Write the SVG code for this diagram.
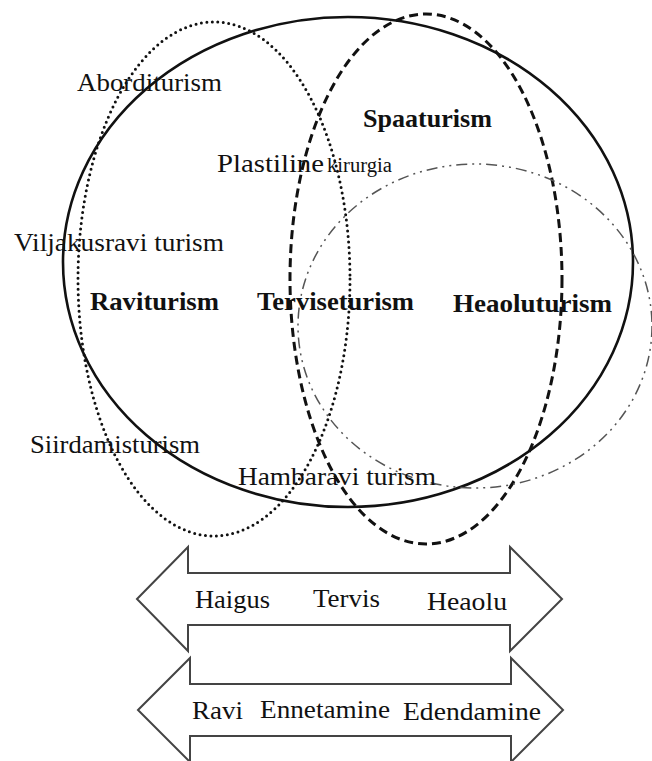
<svg xmlns="http://www.w3.org/2000/svg" width="652" height="761" viewBox="0 0 652 761">
<style>
.t{font-family:"Liberation Serif","Times New Roman",serif;font-size:26px;fill:#111}
.b{font-family:"Liberation Serif","Times New Roman",serif;font-size:26px;font-weight:bold;fill:#111}
.solid{fill:none;stroke:#111;stroke-width:2.6}
.dot{fill:none;stroke:#111;stroke-width:3;stroke-dasharray:0 5.5;stroke-linecap:round}
.dash{fill:none;stroke:#111;stroke-width:3;stroke-dasharray:9 5}
.dd{fill:none;stroke:#555;stroke-width:1.5;stroke-dasharray:11 5 2 5 2 5}
.arr{fill:#fff;stroke:#444;stroke-width:2;stroke-linejoin:miter}
</style>
<rect width="652" height="761" fill="#fff"/>
<g id="ellipses">
<g id="health-tourism"><ellipse class="solid" cx="348" cy="262" rx="285" ry="245"/></g>
<g id="medical-tourism"><ellipse class="dot" cx="214" cy="279" rx="136" ry="257"/></g>
<g id="spa-tourism"><ellipse class="dash" cx="426" cy="279" rx="136" ry="265"/></g>
<g id="wellness-tourism"><ellipse class="dd" cx="475" cy="326" rx="177" ry="162"/></g>
</g>
<g id="labels">
<g id="n-abort"><text class="t" x="77" y="91" textLength="145" lengthAdjust="spacingAndGlyphs">Aborditurism</text></g>
<g id="n-spaa"><text class="b" x="363" y="127" textLength="129" lengthAdjust="spacingAndGlyphs">Spaaturism</text></g>
<g id="n-plast"><text class="t" x="217" y="172"><tspan textLength="107" lengthAdjust="spacingAndGlyphs">Plastiline</tspan><tspan x="327" font-size="20" textLength="65" lengthAdjust="spacingAndGlyphs">kirurgia</tspan></text></g>
<g id="n-vilj"><text class="t" x="14" y="251" textLength="210" lengthAdjust="spacingAndGlyphs">Viljakusravi turism</text></g>
<g id="n-ravi"><text class="b" x="90" y="310" textLength="129" lengthAdjust="spacingAndGlyphs">Raviturism</text></g>
<g id="n-tervise"><text class="b" x="257" y="310" textLength="157" lengthAdjust="spacingAndGlyphs">Terviseturism</text></g>
<g id="n-heaolu"><text class="b" x="453" y="312" textLength="159" lengthAdjust="spacingAndGlyphs">Heaoluturism</text></g>
<g id="n-siird"><text class="t" x="30" y="453" textLength="170" lengthAdjust="spacingAndGlyphs">Siirdamisturism</text></g>
<g id="n-hamba"><text class="t" x="238" y="485" textLength="198" lengthAdjust="spacingAndGlyphs">Hambaravi turism</text></g>
</g>
<g id="connectors">
<g id="arrow-state">
<polygon class="arr" points="137,599 188,547 188,573 510,573 510,547 562,599 510,651 510,625 188,625 188,651"/>
<text class="t" x="195" y="608" textLength="75" lengthAdjust="spacingAndGlyphs">Haigus</text>
<text class="t" x="313" y="607" textLength="67" lengthAdjust="spacingAndGlyphs">Tervis</text>
<text class="t" x="427" y="610" textLength="80" lengthAdjust="spacingAndGlyphs">Heaolu</text>
</g>
<g id="arrow-action">
<polygon class="arr" points="138,710 190,658 190,684 511,684 511,658 563,710 511,762 511,736 190,736 190,762"/>
<text class="t" x="192" y="719" textLength="51" lengthAdjust="spacingAndGlyphs">Ravi</text>
<text class="t" x="260" y="718" textLength="130" lengthAdjust="spacingAndGlyphs">Ennetamine</text>
<text class="t" x="403" y="720" textLength="138" lengthAdjust="spacingAndGlyphs">Edendamine</text>
</g>
</g>
</svg>
